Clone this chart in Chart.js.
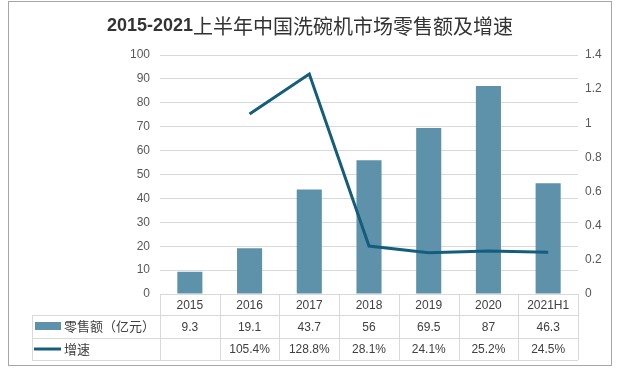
<!DOCTYPE html>
<html>
<head>
<meta charset="utf-8">
<script src="https://cdn.jsdelivr.net/npm/chart.js@4/dist/chart.umd.min.js"></script>
<style>
  html, body { margin: 0; padding: 0; background: #fff; }
  #wrap { width: 619px; height: 372px; position: relative; }
</style>
</head>
<body>
<div id="wrap"><canvas id="c" width="619" height="372"></canvas></div>
<script>
// data
const years = ['2015', '2016', '2017', '2018', '2019', '2020', '2021H1'];
const retail = [9.3, 19.1, 43.7, 56, 69.5, 87, 46.3];
const growth = [null, 1.054, 1.288, 0.281, 0.241, 0.252, 0.245];
const growthLabels = ['', '105.4%', '128.8%', '28.1%', '24.1%', '25.2%', '24.5%'];
const retailName = '零售额（亿元）';
const growthName = '增速';
const titleYears = '2015-2021';
const titleRest = '上半年中国洗碗机市场零售额及增速';

const barColor = '#5E92AA';
const lineColor = '#145E7C';
const gridColor = '#D9D9D9';
const textColor = '#404040';
const fontStack = '"Liberation Sans", "Noto Sans CJK SC", sans-serif';

// title, outer frame and data table under the plot
const tablePlugin = {
  id: 'dataTable',
  afterDraw(chart) {
    const ctx = chart.ctx;
    const area = chart.chartArea;
    const n = years.length;
    const colW = (area.right - area.left) / n;
    const top = area.bottom;
    const rows = [top, top + 21, top + 44, top + 66];
    const legLeft = 32;

    ctx.save();
    // outer frame
    ctx.strokeStyle = '#A6A6A6';
    ctx.lineWidth = 1;
    ctx.strokeRect(8.5, 1.5, 603, 364);

    // title: bold latin part, regular CJK part, centred together
    const fYears = 'bold 18px ' + fontStack;
    const fRest = '20px "Noto Sans CJK SC", sans-serif';
    ctx.font = fYears;
    const w1 = ctx.measureText(titleYears).width;
    ctx.font = fRest;
    const w2 = ctx.measureText(titleRest).width;
    const x0 = 310 - (w1 + w2) / 2;
    ctx.fillStyle = '#333333';
    ctx.textAlign = 'left';
    ctx.textBaseline = 'middle';
    ctx.font = fYears;
    ctx.fillText(titleYears, x0, 26);
    ctx.font = fRest;
    ctx.fillText(titleRest, x0 + w1, 26);

    // table grid
    ctx.strokeStyle = gridColor;
    ctx.beginPath();
    for (let i = 0; i <= n; i++) {
      const x = Math.round(area.left + i * colW) + 0.5;
      ctx.moveTo(x, rows[0]);
      ctx.lineTo(x, rows[3]);
    }
    ctx.moveTo(legLeft + 0.5, rows[1]);
    ctx.lineTo(legLeft + 0.5, rows[3]);
    ctx.moveTo(area.left, rows[0] + 0.5);
    ctx.lineTo(area.right, rows[0] + 0.5);
    for (let r = 1; r <= 3; r++) {
      ctx.moveTo(legLeft, rows[r] + 0.5);
      ctx.lineTo(area.right, rows[r] + 0.5);
    }
    ctx.stroke();

    // cells
    ctx.fillStyle = textColor;
    ctx.font = '12px ' + fontStack;
    ctx.textAlign = 'center';
    const xs = chart.scales.x;
    years.forEach((y, i) => {
      const cx = xs.getPixelForValue(i);
      ctx.fillText(y, cx, (rows[0] + rows[1]) / 2 + 1);
      ctx.fillText(String(retail[i]), cx, (rows[1] + rows[2]) / 2 + 1);
      ctx.fillText(growthLabels[i], cx, (rows[2] + rows[3]) / 2 + 1);
    });

    // legend keys
    ctx.fillStyle = barColor;
    ctx.fillRect(35, rows[1] + 7, 26, 8);
    ctx.strokeStyle = lineColor;
    ctx.lineWidth = 3;
    ctx.beginPath();
    ctx.moveTo(34, (rows[2] + rows[3]) / 2);
    ctx.lineTo(61, (rows[2] + rows[3]) / 2);
    ctx.stroke();
    ctx.fillStyle = textColor;
    ctx.font = '13px ' + fontStack;
    ctx.textAlign = 'left';
    ctx.fillText(retailName, 64, (rows[1] + rows[2]) / 2 + 1);
    ctx.fillText(growthName, 64, (rows[2] + rows[3]) / 2 + 1);
    ctx.restore();
  }
};

new Chart(document.getElementById('c'), {
  data: {
    labels: years,
    datasets: [
      {
        type: 'line',
        label: growthName,
        data: growth,
        yAxisID: 'y1',
        borderColor: lineColor,
        borderWidth: 3,
        pointRadius: 0,
        tension: 0,
        fill: false,
        order: 0
      },
      {
        type: 'bar',
        label: retailName,
        data: retail,
        yAxisID: 'y',
        backgroundColor: barColor,
        barPercentage: 0.42,
        categoryPercentage: 1,
        order: 1
      }
    ]
  },
  options: {
    responsive: false,
    animation: false,
    layout: { padding: { top: 55, bottom: 78, left: 0, right: 0 } },
    plugins: {
      legend: { display: false },
      title: { display: false },
      tooltip: { enabled: false }
    },
    scales: {
      x: { display: false },
      y: {
        position: 'left',
        min: 0,
        max: 100,
        ticks: { stepSize: 10, color: '#595959', padding: 10, font: { size: 12, family: fontStack } },
        grid: { color: gridColor, drawTicks: false },
        border: { display: false },
        afterFit(s) { s.width = 160; }
      },
      y1: {
        position: 'right',
        min: 0,
        max: 1.4,
        ticks: {
          stepSize: 0.2,
          color: '#595959',
          padding: 7,
          font: { size: 12, family: fontStack },
          callback: v => String(+v.toFixed(1))
        },
        grid: { display: false, drawTicks: false },
        border: { display: false },
        afterFit(s) { s.width = 41; }
      }
    }
  },
  plugins: [tablePlugin]
});
</script>
</body>
</html>
